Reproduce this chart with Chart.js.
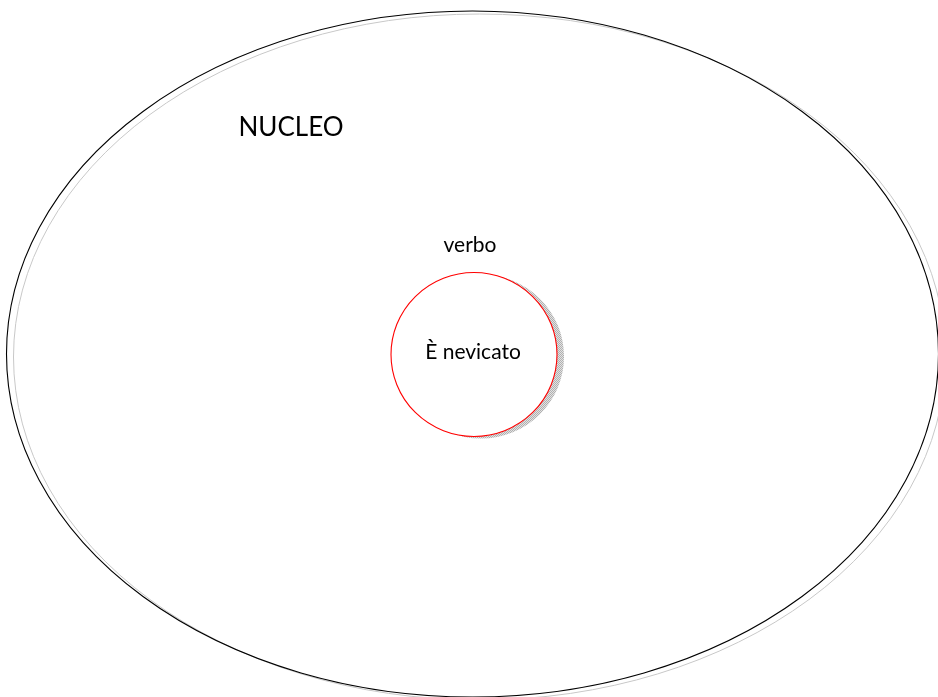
<!DOCTYPE html>
<html>
<head>
<meta charset="utf-8">
<script src="https://cdn.jsdelivr.net/npm/chart.js@4"></script>
<style>
  html, body { margin: 0; padding: 0; background: #fff; }
  #wrap { width: 938px; height: 697px; }
</style>
</head>
<body>
<div id="wrap"><canvas id="diagram" width="938" height="697"></canvas></div>
<script>
'use strict';
// shapes of the diagram, in axis units (x: 0..938, y: 0..697 from the top)
const shapeNames = ['NUCLEO', 'verbo'];
const centerX = [472.5, 474];
const centerY = [354, 354.5];
const radiusX = [466, 83];
const radiusY = [343, 82];

// texts
const labelTexts = ['NUCLEO', 'verbo', 'È nevicato'];
const labelX = [291, 470, 473];
const labelY = [128, 245, 352];
const labelSize = [26, 21, 21];

function shadePattern(ctx) {
  const c = document.createElement('canvas');
  c.width = 2; c.height = 2;
  const p = c.getContext('2d');
  p.fillStyle = '#e2e2e2'; p.fillRect(0, 0, 2, 2);
  p.fillStyle = '#b0b0b0'; p.fillRect(0, 0, 1, 1); p.fillRect(1, 1, 1, 1);
  return ctx.createPattern(c, 'repeat');
}

const ellipsePlugin = {
  id: 'ellipses',
  beforeDatasetsDraw(chart) {
    const ctx = chart.ctx;
    const xs = chart.scales.x, ys = chart.scales.y;
    shapeNames.forEach((name, i) => {
      const cx = xs.getPixelForValue(centerX[i]);
      const cy = ys.getPixelForValue(centerY[i]);
      const rx = Math.abs(xs.getPixelForValue(centerX[i] + radiusX[i]) - cx);
      const ry = Math.abs(ys.getPixelForValue(centerY[i] + radiusY[i]) - cy);
      ctx.save();
      if (i === 0) {
        // faint grey shadow line
        ctx.beginPath();
        ctx.ellipse(cx + 7, cy + 3, rx, ry, 0, 0, Math.PI * 2);
        ctx.strokeStyle = '#c8c8c8';
        ctx.lineWidth = 1;
        ctx.stroke();
        ctx.beginPath();
        ctx.ellipse(cx, cy, rx, ry, 0, 0, Math.PI * 2);
        ctx.strokeStyle = '#000';
        ctx.lineWidth = 1.1;
        ctx.stroke();
      } else {
        ctx.beginPath();
        ctx.ellipse(cx + 7, cy + 2, rx, ry, 0, 0, Math.PI * 2);
        ctx.fillStyle = shadePattern(ctx);
        ctx.fill();
        ctx.beginPath();
        ctx.ellipse(cx, cy, rx, ry, 0, 0, Math.PI * 2);
        ctx.fillStyle = '#fff';
        ctx.fill();
        ctx.strokeStyle = '#ff0000';
        ctx.lineWidth = 1.1;
        ctx.stroke();
      }
      ctx.restore();
    });
  },
  afterDatasetsDraw(chart) {
    const ctx = chart.ctx;
    const xs = chart.scales.x, ys = chart.scales.y;
    ctx.save();
    ctx.fillStyle = '#000';
    ctx.textAlign = 'center';
    ctx.textBaseline = 'middle';
    labelTexts.forEach((t, i) => {
      ctx.font = labelSize[i] + 'px Lato, "Open Sans", sans-serif';
      ctx.fillText(t, xs.getPixelForValue(labelX[i]), ys.getPixelForValue(labelY[i]));
    });
    ctx.restore();
  }
};

new Chart(document.getElementById('diagram'), {
  type: 'scatter',
  data: {
    datasets: [{
      data: labelTexts.map((t, i) => ({ x: labelX[i], y: labelY[i] })),
      pointRadius: 0,
      showLine: false
    }]
  },
  options: {
    responsive: false,
    animation: false,
    layout: { padding: 0 },
    plugins: { legend: { display: false }, tooltip: { enabled: false } },
    scales: {
      x: { type: 'linear', min: 0, max: 938, display: false },
      y: { type: 'linear', min: 0, max: 697, reverse: true, display: false }
    }
  },
  plugins: [ellipsePlugin]
});
</script>
</body>
</html>
